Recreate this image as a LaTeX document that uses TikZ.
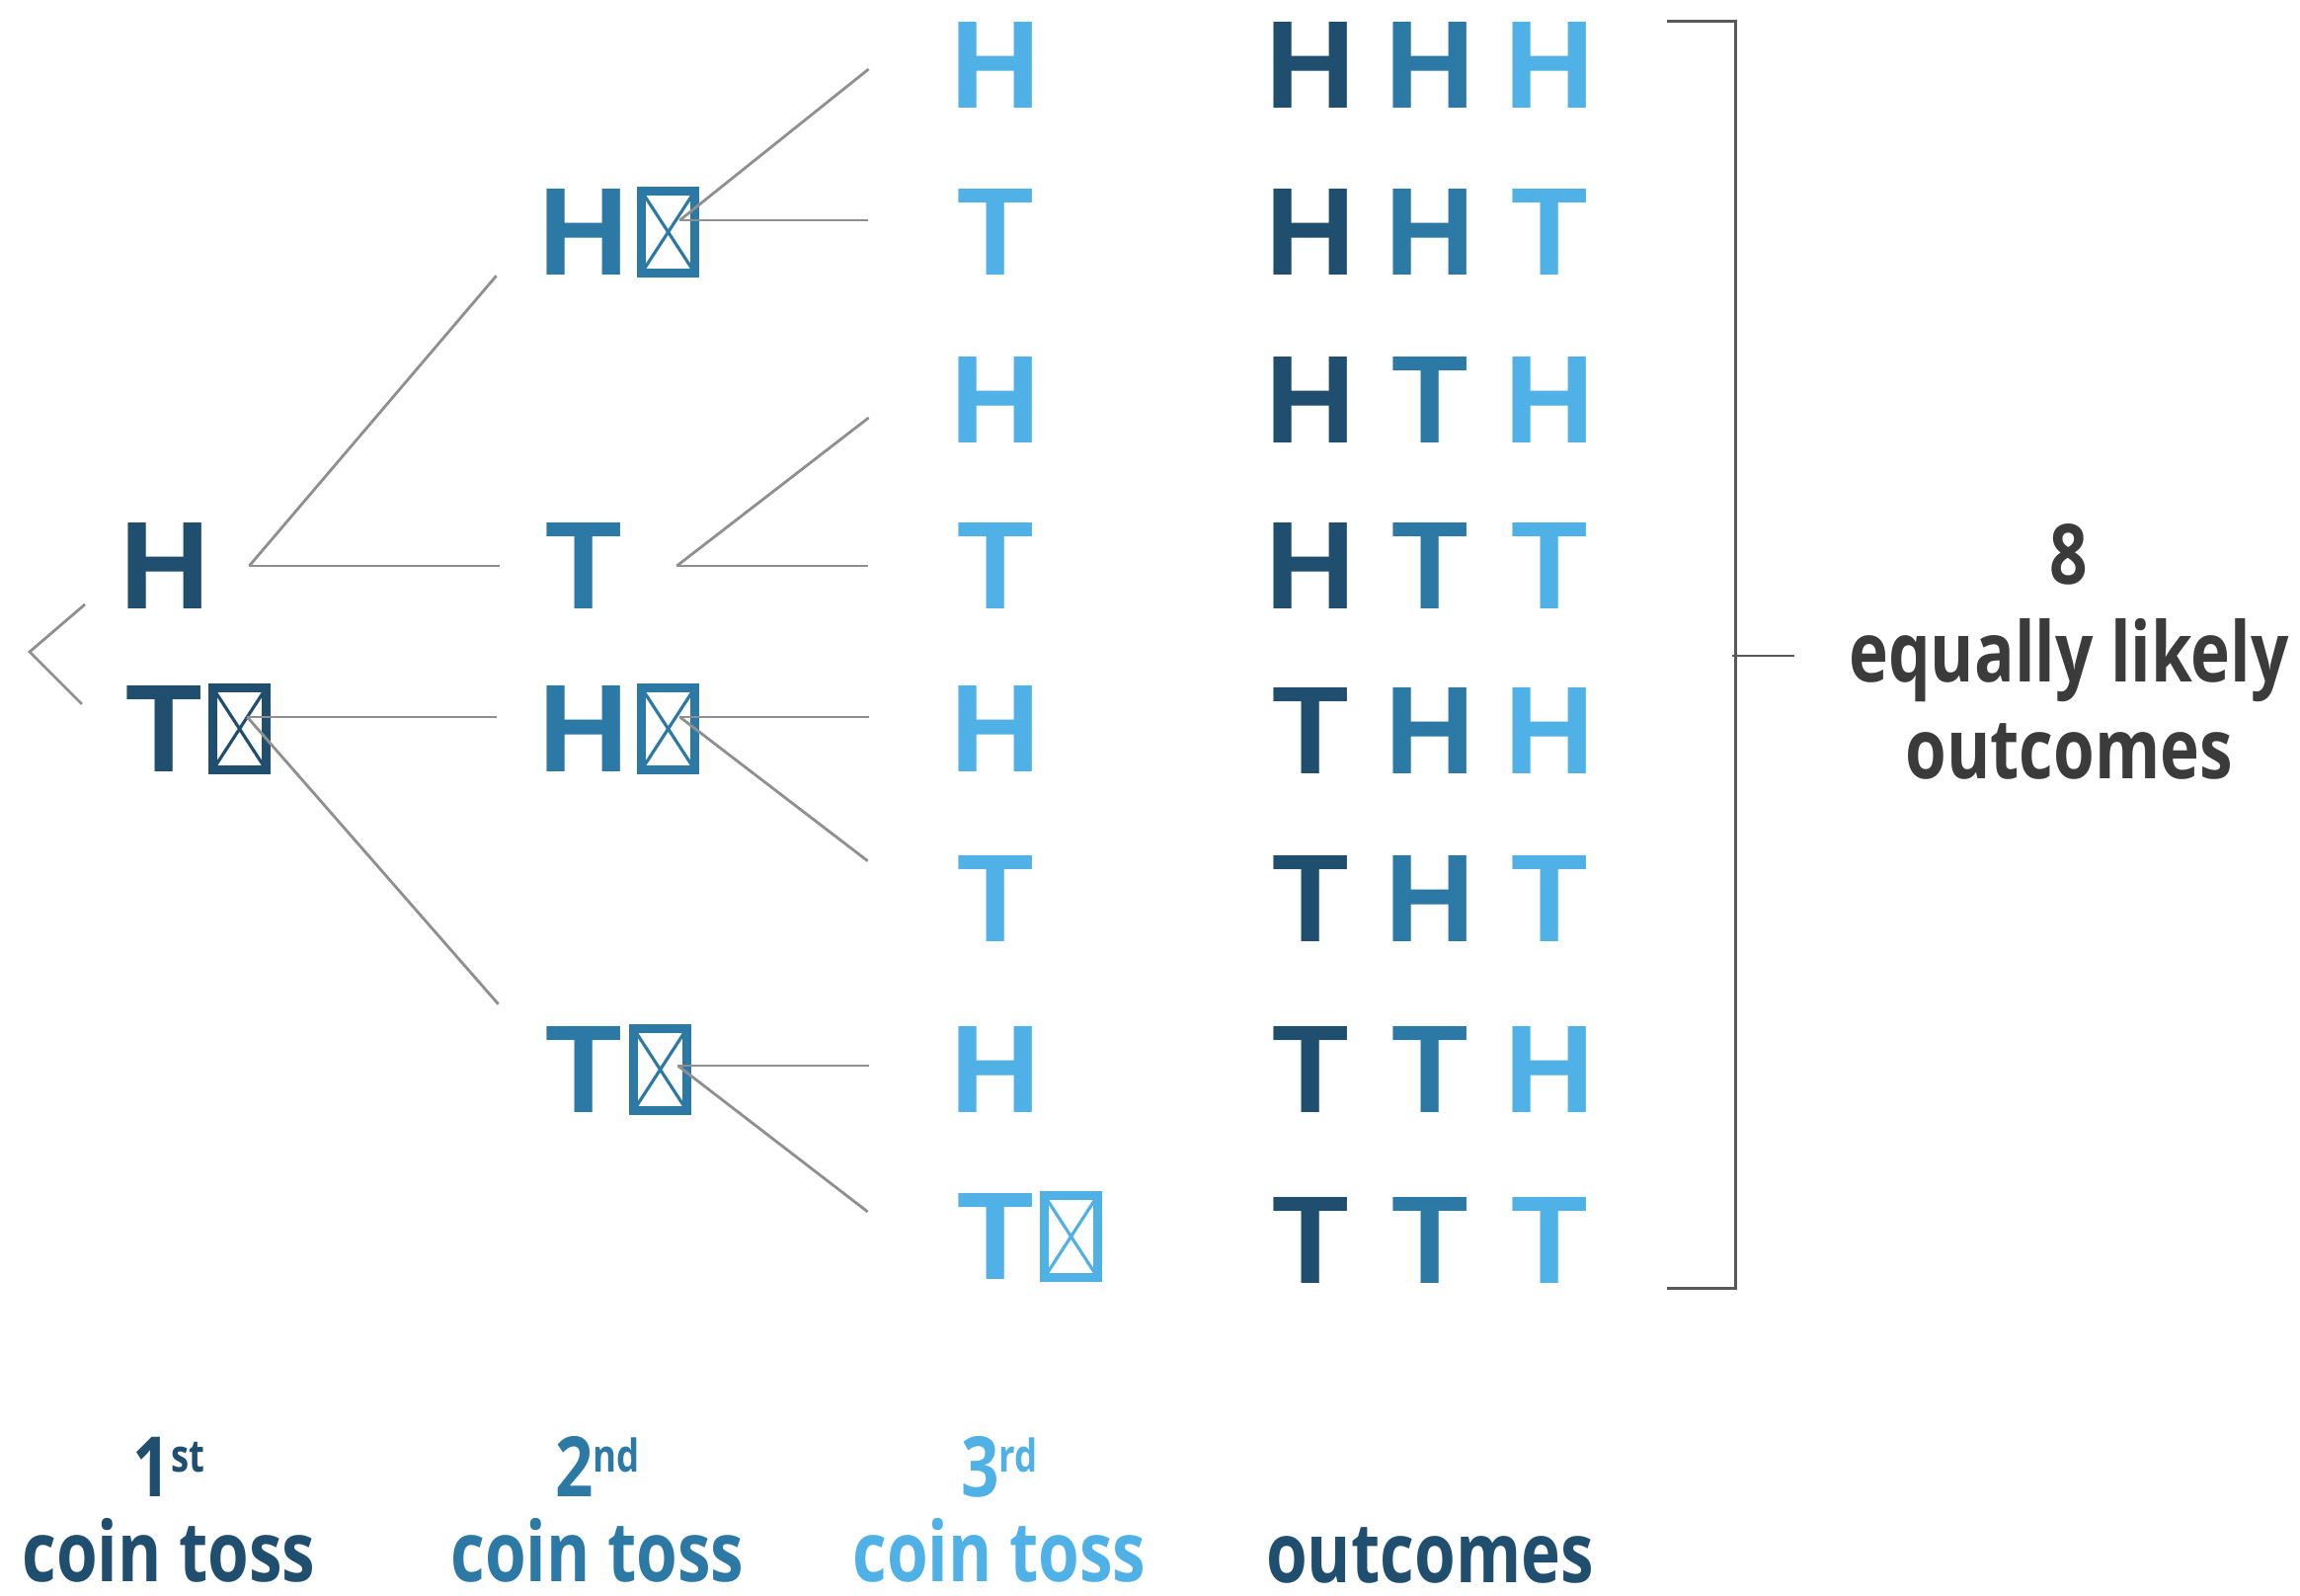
\documentclass[tikz,border=0pt]{standalone}
\usepackage{fontspec}
\usepackage{xcolor}
\usepackage{tikz}
\usetikzlibrary{positioning}

\newfontfamily\coinfont{Liberation Sans}
\newfontfamily\labelfont[FakeStretch=0.8]{Open Sans}

\definecolor{toss1}{HTML}{1F4E6F}
\definecolor{toss2}{HTML}{2D79A5}
\definecolor{toss3}{HTML}{4FB1E6}
\definecolor{branchgray}{HTML}{8F8F8F}
\definecolor{notegray}{HTML}{3B3B3B}

% one row of the outcome column, coloured by toss
\newcommand{\outcome}[3]{%
  \textcolor{toss1}{\makebox[1.21cm]{#1}}%
  \textcolor{toss2}{\makebox[1.21cm]{#2}}%
  \textcolor{toss3}{\makebox[1.21cm]{#3}}}
\newcommand{\ordsup}[1]{\raisebox{7pt}{\fontsize{13}{13}\selectfont #1}}

\begin{document}
\begin{tikzpicture}[x=0.1mm, y=-0.1mm,
        coin/.style={inner sep=0pt, text=#1, font=\coinfont\bfseries\fontsize{36}{36}\selectfont},
        missing/.style={draw=#1, line width=2.4pt, minimum width=5.4mm, minimum height=8.3mm, inner sep=0pt,
            path picture={\draw[#1, line width=0.9pt]
                (path picture bounding box.north west) -- (path picture bounding box.south east)
                (path picture bounding box.north east) -- (path picture bounding box.south west);}},
        branch/.style={draw=branchgray, line width=0.8pt},
        bracket/.style={draw=notegray!85, line width=0.8pt},
        caption/.style={align=center, inner sep=0pt, font=\labelfont\bfseries\fontsize{24}{24.5}\selectfont}
    ]
    \useasboundingbox (0,0) rectangle (2329,1616);

    % 1st toss
    \node[coin=toss1] (h1) at (167,573) {H};
    \node[coin=toss1] (t1) at (166,738) {T};
    \node[missing=toss1, right=0.6mm of t1] (t1x) {};
    \draw[branch] (86,612) -- (30,660) -- (83,713);

    % 2nd toss
    \node[coin=toss2] (h2a) at (591,235) {H};
    \node[missing=toss2, right=0.8mm of h2a] (h2ax) {};
    \node[coin=toss2] (t2) at (591,573) {T};
    \node[coin=toss2] (h2b) at (591,738) {H};
    \node[missing=toss2, right=0.8mm of h2b] (h2bx) {};
    \node[coin=toss2] (t2b) at (591,1083) {T};
    \node[missing=toss2, right=0.7mm of t2b] (t2bx) {};

    % 3rd toss
    \node[coin=toss3] (c1) at (1008,66) {H};
    \node[coin=toss3] (c2) at (1008,235) {T};
    \node[coin=toss3] (c3) at (1008,405) {H};
    \node[coin=toss3] (c4) at (1008,573) {T};
    \node[coin=toss3] (c5) at (1008,738) {H};
    \node[coin=toss3] (c6) at (1008,910) {T};
    \node[coin=toss3] (c7) at (1008,1083) {H};
    \node[coin=toss3] (c8) at (1008,1252) {T};
    \node[missing=toss3, right=0.6mm of c8] (c8x) {};

    % outcomes
    \node[coin=toss1] (o1) at (1448,66) {\outcome{H}{H}{H}};
    \node[coin=toss1] (o2) at (1448,235) {\outcome{H}{H}{T}};
    \node[coin=toss1] (o3) at (1448,405) {\outcome{H}{T}{H}};
    \node[coin=toss1] (o4) at (1448,573) {\outcome{H}{T}{T}};
    \node[coin=toss1] (o5) at (1448,740) {\outcome{T}{H}{H}};
    \node[coin=toss1] (o6) at (1448,910) {\outcome{T}{H}{T}};
    \node[coin=toss1] (o7) at (1448,1083) {\outcome{T}{T}{H}};
    \node[coin=toss1] (o8) at (1448,1256) {\outcome{T}{T}{T}};

    % branch points
    \coordinate[right=3.9mm of h1] (h1-out);
    \coordinate[right=4.5mm of t1, yshift=1.2mm] (t1-out);
    \coordinate[right=5.1mm of h2a, yshift=1.2mm] (h2a-out);
    \coordinate[right=5.5mm of t2] (t2-out);
    \coordinate[right=5.1mm of h2b, yshift=1.2mm] (h2b-out);
    \coordinate[right=5.6mm of t2b, yshift=0.4mm] (t2b-out);

    \draw[branch] (h1-out) -- ([xshift=-4.2mm]h2a.south west);
    \draw[branch] (h1-out) -- ([xshift=-4.6mm]t2.west);
    \draw[branch] (t1-out) -- ([xshift=-4.2mm,yshift=1.2mm]h2b.west);
    \draw[branch] (t1-out) -- ([xshift=-4.7mm,yshift=2.2mm]t2b.north west);

    \draw[branch] (h2a-out) -- ([xshift=-8.2mm,yshift=-0.4mm]c1.west);
    \draw[branch] (h2a-out) -- ([xshift=-9mm,yshift=1.2mm]c2.west);
    \draw[branch] (t2-out) -- ([xshift=-8.2mm,yshift=-1.8mm]c3.west);
    \draw[branch] (t2-out) -- ([xshift=-9mm]c4.west);
    \draw[branch] (h2b-out) -- ([xshift=-8.2mm,yshift=1.2mm]c5.west);
    \draw[branch] (h2b-out) -- ([xshift=-9mm,yshift=-0.6mm]c6.north west);
    \draw[branch] (t2b-out) -- ([xshift=-8.2mm,yshift=0.4mm]c7.west);
    \draw[branch] (t2b-out) -- ([xshift=-9mm,yshift=2.5mm]c8.west);

    % summary on the right
    \node[caption, text=notegray, anchor=north, font=\labelfont\bfseries\fontsize{24}{28}\selectfont]
        (note) at (2095,530) {8\\equally likely\\outcomes};
    \draw[bracket] ([xshift=5.8mm]o1.north east) -- ++(6.9mm,0) |- ([xshift=5.8mm,yshift=-0.4mm]o8.south east);
    \draw[bracket] ([xshift=-5.5mm,yshift=-0.4mm]note.west) -- ++(-6.3mm,0);

    % column captions
    \node[caption, text=toss1, anchor=south] (cap1) at (171,1603) {1\ordsup{st}\\coin toss};
    \node[caption, text=toss2, anchor=south] (cap2) at (605,1603) {2\ordsup{nd}\\coin toss};
    \node[caption, text=toss3, anchor=south] (cap3) at (1012,1603) {3\ordsup{rd}\\coin toss};
    \node[caption, text=toss1, anchor=base] (cap4) at (1448,1603) {outcomes};
\end{tikzpicture}
\end{document}
